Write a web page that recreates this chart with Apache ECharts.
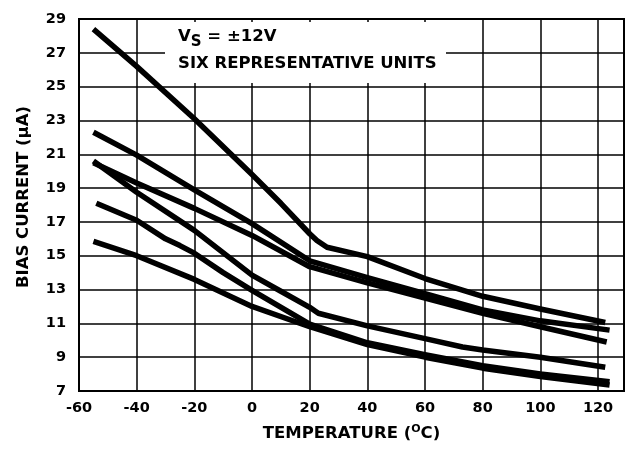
<!DOCTYPE html>
<html>
<head>
<meta charset="utf-8">
<script src="https://cdn.jsdelivr.net/npm/echarts@6/dist/echarts.min.js"></script>
<style>
    html, body { margin: 0; padding: 0; background: #fff; }
    #chart { width: 628px; height: 451px; }
</style>
</head>
<body>
<div id="chart"></div>
<script>
// axis ranges / ticks
const xMin = -60, xMax = 129, xStep = 20;
const yMin = 7, yMax = 29, yStep = 2;

// six units (temperature in C, bias current in uA)
const unit1Temp = [-55, -40, -20, 0, 10, 20, 22.5, 26, 40, 60, 80, 100, 122.5];
const unit1Bias = [28.4, 26.2, 23.1, 19.8, 18.1, 16.3, 15.9, 15.5, 14.95, 13.65, 12.6, 11.85, 11.05];

const unit2Temp = [-55, -40, -20, 0, 20, 40, 60, 80, 100, 124];
const unit2Bias = [22.3, 20.95, 18.9, 16.9, 14.7, 13.7, 12.75, 11.8, 11.15, 10.6];

const unit3Temp = [-55, -40, -20, 0, 20, 40, 60, 80, 100, 123];
const unit3Bias = [20.5, 19.3, 17.8, 16.2, 14.35, 13.4, 12.5, 11.6, 10.8, 9.9];

const unit4Temp = [-55, -40, -20, 0, 10, 20, 23, 40, 60, 73, 80, 100, 122.5];
const unit4Bias = [20.6, 18.75, 16.5, 13.85, 12.9, 11.95, 11.6, 10.85, 10.1, 9.6, 9.42, 9.0, 8.4];

const unit5Temp = [-54, -40, -30, -25, -20, -10, 0, 20, 40, 60, 80, 100, 124];
const unit5Bias = [18.1, 17.1, 16.0, 15.6, 15.15, 14.0, 12.95, 10.95, 9.85, 9.15, 8.5, 8.0, 7.55];

const unit6Temp = [-55, -40, -20, 0, 20, 40, 60, 80, 100, 124];
const unit6Bias = [15.85, 15.0, 13.6, 12.0, 10.8, 9.75, 9.0, 8.35, 7.85, 7.35];

const units = [
    [unit1Temp, unit1Bias],
    [unit2Temp, unit2Bias],
    [unit3Temp, unit3Bias],
    [unit4Temp, unit4Bias],
    [unit5Temp, unit5Bias],
    [unit6Temp, unit6Bias]
];

const FONT = 'DejaVu Sans';

const chart = echarts.init(document.getElementById('chart'));

const option = {
    animation: false,
    backgroundColor: '#fff',
    grid: {
        left: 79,
        top: 19,
        right: 4,
        bottom: 60,
        show: true,
        borderColor: '#000',
        borderWidth: 2,
        backgroundColor: 'transparent'
    },
    xAxis: {
        type: 'value',
        min: xMin,
        max: xMax,
        interval: xStep,
        axisLine: { show: true, onZero: false, lineStyle: { color: '#000', width: 2 } },
        axisTick: { show: false },
        splitLine: { show: true, lineStyle: { color: '#000', width: 1.5 } },
        axisLabel: {
            color: '#000',
            fontFamily: FONT,
            fontWeight: 'bold',
            fontSize: 14.5,
            margin: 10,
            showMaxLabel: false
        },
        name: '{t|TEMPERATURE (}{s|O}{t|C)}',
        nameLocation: 'middle',
        nameGap: 33,
        nameTextStyle: {
            rich: {
                t: { fontFamily: FONT, fontWeight: 'bold', fontSize: 16.5, color: '#000' },
                s: { fontFamily: FONT, fontWeight: 'bold', fontSize: 11, color: '#000', padding: [0, 0, 9, 0] }
            }
        }
    },
    yAxis: {
        type: 'value',
        min: yMin,
        max: yMax,
        interval: yStep,
        axisLine: { show: true, onZero: false, lineStyle: { color: '#000', width: 2 } },
        axisTick: { show: false },
        splitLine: { show: true, lineStyle: { color: '#000', width: 1.5 } },
        axisLabel: {
            color: '#000',
            fontFamily: FONT,
            fontWeight: 'bold',
            fontSize: 14.5,
            margin: 13,
            padding: [0, 0, 5, 0]
        },
        name: 'BIAS CURRENT (\u03BCA)',
        nameLocation: 'middle',
        nameGap: 47,
        nameTextStyle: {
            color: '#000',
            fontFamily: FONT,
            fontWeight: 'bold',
            fontSize: 16.5,
            padding: [0, 0, 0, 16]
        }
    },
    graphic: [
        {
            type: 'rect',
            z: 1,
            shape: { x: 165, y: 22, width: 281, height: 61 },
            style: { fill: '#fff' }
        },
        {
            type: 'text',
            z: 3,
            x: 178,
            y: 37,
            style: {
                text: '{t|V}{s|S}{t| = \u00B112V}',
                verticalAlign: 'middle',
                rich: {
                    t: { fontFamily: FONT, fontWeight: 'bold', fontSize: 16.5, fill: '#000' },
                    s: { fontFamily: FONT, fontWeight: 'bold', fontSize: 15, fill: '#000', padding: [10, 0, 0, 0] }
                }
            }
        },
        {
            type: 'text',
            z: 3,
            x: 178,
            y: 64,
            style: {
                text: 'SIX REPRESENTATIVE UNITS',
                fontFamily: FONT,
                fontWeight: 'bold',
                fontSize: 16.5,
                fill: '#000',
                verticalAlign: 'middle'
            }
        }
    ],
    series: units.map(function (u, i) {
        return {
            name: 'unit' + (i + 1),
            type: 'line',
            data: u[0].map(function (t, k) { return [t, u[1][k]]; }),
            symbol: 'none',
            smooth: false,
            z: 4,
            lineStyle: { color: '#000', width: 5.5, join: 'round' }
        };
    })
};

chart.setOption(option);
</script>
</body>
</html>
